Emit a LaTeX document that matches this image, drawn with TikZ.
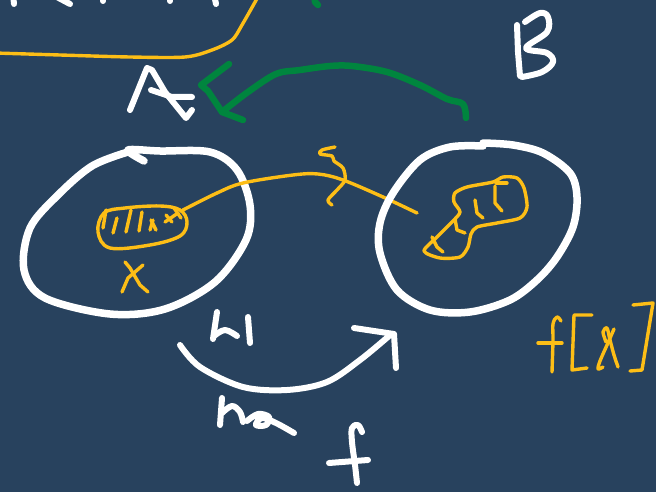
\documentclass[tikz,border=0pt]{standalone}
\usetikzlibrary{calc}
\definecolor{board}{RGB}{40,66,94}
\definecolor{chalkyellow}{RGB}{253,190,22}
\definecolor{chalkgreen}{RGB}{0,133,62}
\tikzset{
  wpen/.style={draw=white,line width=7.5pt,line cap=round,line join=round},
  wthin/.style={draw=white,line width=6pt,line cap=round,line join=round},
  ypen/.style={draw=chalkyellow,line width=3.4pt,line cap=round,line join=round},
  gpen/.style={draw=chalkgreen,line width=6.5pt,line cap=round,line join=round},
}
\begin{document}
\begin{tikzpicture}[x=1pt,y=-1pt]
\fill[board] (0,0) rectangle (656,492);
\useasboundingbox (0,0) rectangle (656,492);
\clip (0,0) rectangle (656,492);

% letters cut off at the top edge
\draw[wthin] (13,-6) -- (14,4);
\draw[wthin] (55,-4) -- (70,4);
\draw[wthin] (103,-6) -- (103,1);
\draw[wthin] (170,-6) -- (170,1);
\draw[wthin] (214,-6) -- (216,4);
\draw[gpen] (314,-6) -- (315,2) -- (318,5);

% yellow frame of the upper box
\draw[ypen] plot[smooth,tension=0.5] coordinates
  {(-5,53) (60,55) (130,57) (185,57) (212,50) (232,40) (242,25) (259,-5)};

% letter A
\draw[wthin] (130,110) -- (147,68) -- (152,70) -- (165,92) -- (186,118) -- (192,110);
\draw[wthin] (151,90) -- (172,97) -- (192,97);

% green arrow from B to A
\draw[gpen] plot[smooth,tension=0.55] coordinates
  {(466,118) (463,104) (447,99) (420,85) (387,72) (352,66) (330,66) (300,70) (276,74) (248,92) (222,112)};
\draw[gpen] (229,64) -- (201,85) -- (208,91) -- (222,112) -- (243,120);

% letter B
\draw[wthin] (517,25) -- (518,52) -- (520,76);
\draw[wthin] plot[smooth,tension=0.6] coordinates
  {(525,22) (540,13) (548,17) (547,32) (526,48) (547,53) (553,62) (542,72) (522,77)};

% left set
\draw[wpen] plot[smooth,tension=0.55] coordinates
  {(144,161) (128,150) (160,151) (210,152) (237,170) (250,205) (246,240) (215,282) (165,309) (110,314) (45,298) (24,270) (30,228) (58,195) (92,166) (128,152)};

% subset X and its hatching
\draw[ypen] plot[smooth cycle,tension=0.6] coordinates
  {(98,232) (104,213) (125,208) (160,206) (180,210) (187,222) (180,236) (150,245) (110,248)};
\draw[ypen] (106,210) -- (103,228);
\draw[ypen] (117,218) -- (113,233);
\draw[ypen] (131,210) -- (126,232);
\draw[ypen] (142,212) -- (139,231);
\draw[ypen] (151,220) -- (156,230);
\draw[ypen] (153,220) -- (150,230);
\draw[ypen] (166,215) -- (172,222);
\draw[ypen] (174,208) -- (181,218);
\draw[ypen] (165,222) -- (178,213);

% label X
\draw[ypen] (125,262) -- (130,268) -- (140,285) -- (148,292);
\draw[ypen] (143,265) -- (128,278) -- (122,292);

% image line from X into the right set
\draw[ypen] plot[smooth,tension=0.55] coordinates
  {(183,210) (217,193) (243,183) (293,175) (318,174) (343,180) (383,197) (417,213)};
\draw[ypen] plot[smooth,tension=0.5] coordinates
  {(335,147) (322,150) (320,154) (332,156) (334,161) (343,168) (345,180) (337,190) (328,200) (332,205)};

% right set
\draw[wpen] plot[smooth,tension=0.55] coordinates
  {(483,146) (450,147) (420,160) (393,193) (380,223) (380,253) (397,290) (430,310) (470,312) (510,300) (537,280) (557,257) (573,227) (577,197) (570,173) (543,153) (513,145) (483,143)};

% image f[X]
\draw[ypen] plot[smooth cycle,tension=0.45] coordinates
  {(424,251) (437,237) (453,221) (460,212) (454,202) (455,193) (467,187) (493,182) (503,177) (517,178) (524,188) (527,207) (520,218) (497,223) (477,227) (471,234) (468,247) (460,257) (440,258)};
\draw[ypen] (475,200) -- (477,213) -- (483,218);
\draw[ypen] (495,186) -- (495,203) -- (502,211);
\draw[ypen] (496,183) -- (507,183);
\draw[ypen] (455,219) -- (457,230) -- (465,233);
\draw[ypen] (432,237) -- (437,247) -- (443,252);

% arrow f between the sets
\draw[wthin] plot[smooth,tension=0.55] coordinates
  {(180,345) (200,367) (243,387) (287,390) (327,382) (360,360) (389,336)};
\draw[wthin] (354,328) -- (394,334) -- (396,368);

% label 1-1
\draw[wthin] (217,312) -- (213,339);
\draw[wthin] plot[smooth,tension=0.6] coordinates {(214,336) (225,330) (237,336)};
\draw[wthin] (248,317) -- (250,343);

% label na
\draw[wthin] (222,398) -- (220,425);
\draw[wthin] plot[smooth,tension=0.6] coordinates {(222,413) (232,406) (240,412) (243,422)};
\draw[wthin] plot[smooth,tension=0.6] coordinates
  {(247,421) (258,414) (269,417) (266,425) (256,425) (262,418) (276,423) (294,433)};

% label f
\draw[wthin] plot[smooth,tension=0.6] coordinates
  {(362,432) (358,425) (352,428) (352,442) (355,465) (357,483)};
\draw[wthin] (329,463) -- (368,460);

% label f[X] in yellow
\draw[ypen] plot[smooth,tension=0.6] coordinates
  {(561,321) (557,317) (553,324) (553,340) (552,372)};
\draw[ypen] (538,343) -- (562,343);
\draw[ypen] (592,315) -- (574,315) -- (572,370) -- (587,368);
\draw[ypen] plot[smooth,tension=0.5] coordinates
  {(606,342) (603,332) (607,328) (610,340) (614,355) (618,367)};
\draw[ypen] plot[smooth,tension=0.5] coordinates
  {(614,329) (607,345) (600,361) (598,369) (603,367)};
\draw[ypen] (633,305) -- (653,303) -- (642,370) -- (630,371);
\end{tikzpicture}
\end{document}
